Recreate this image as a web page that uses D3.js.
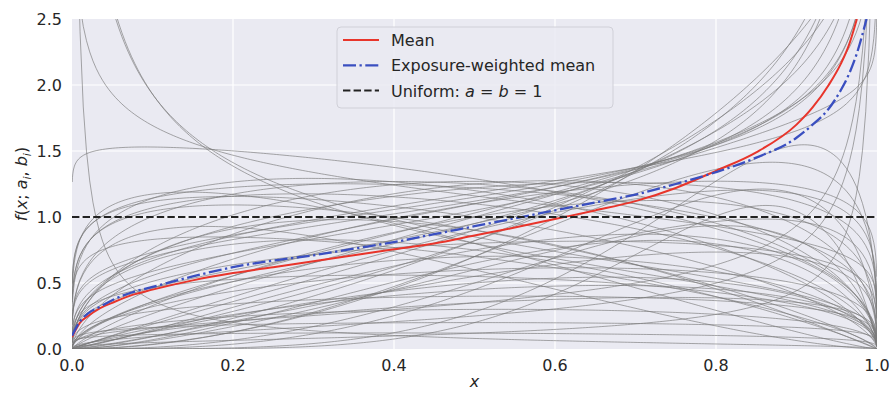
<!DOCTYPE html>
<html lang="en">
<head>
<meta charset="UTF-8">
<title>Beta curves</title>
<script src="https://cdn.jsdelivr.net/npm/d3@7"></script>
<style>
  body { margin: 0; background: #fff; }
  text { font-family: "DejaVu Sans", sans-serif; fill: #262626; }
</style>
</head>
<body>
<svg width="893" height="395"></svg>
<script>
// gray curves: shape a_i, b_i and height at x = 0.5
const grayA = [0.82, 0.6, 0.58, 0.2, 1.04,
  1.15, 1.3, 1.5, 1.6, 1.4, 1.25,
  1.2, 1.25, 1.2, 1.35, 1.6, 1.9, 2.3, 1.5, 2.8, 1.3, 2.0, 1.8, 1.3,
  1.3, 1.4, 1.3,
  3.0, 2.5, 4.0, 2.0, 3.5, 5.0, 2.2, 1.8, 2.6, 1.6, 6.0,
  1.5, 1.8, 1.3, 2.0, 1.4, 1.2, 1.6, 1.35, 2.2, 1.25, 1.7, 1.15,
  1.2, 1.2, 1.15, 1.3, 1.2, 1.4, 1.15, 1.5];
const grayB = [1.15, 1.3, 1.35, 1.4, 1.4,
  1.3, 1.45, 1.5, 1.4, 1.2, 1.6,
  0.78, 0.7, 0.75, 0.8, 0.85, 0.8, 0.85, 0.65, 0.9, 0.6, 0.7, 0.95, 0.9,
  0.3, 0.45, 0.5,
  1.3, 1.25, 1.5, 1.2, 1.6, 1.4, 1.5, 1.3, 1.6, 1.15, 1.8,
  1.3, 1.4, 1.25, 1.5, 1.35, 1.2, 1.5, 1.2, 1.3, 1.4, 1.25, 1.25,
  1.8, 2.2, 1.6, 2.5, 1.5, 1.9, 1.7, 2.0];
const grayM = [1.16, 0.85, 0.8, 0.08, 1.29,
  1.22, 1.25, 1.27, 1.25, 1.22, 1.2,
  1.15, 1.05, 1.12, 1.1, 1.03, 0.9, 0.82, 0.95, 0.7, 0.95, 0.82, 1.0, 1.18,
  0.12, 0.25, 0.35,
  0.7, 0.6, 0.45, 0.9, 0.5, 0.28, 0.75, 1.0, 0.65, 1.1, 0.2,
  0.6, 0.45, 0.4, 0.5, 0.3, 0.2, 0.7, 0.8, 0.55, 0.55, 0.35, 0.12,
  0.9, 0.8, 1.0, 0.6, 1.1, 0.75, 0.7, 0.9];

// mean curves
const meanX = [0, 0.005, 0.01, 0.02, 0.035, 0.05, 0.075, 0.1, 0.15, 0.2, 0.25, 0.3, 0.35, 0.4, 0.45,
  0.5, 0.55, 0.6, 0.65, 0.7, 0.75, 0.8, 0.85, 0.9, 0.92, 0.94, 0.955, 0.965, 0.975];
const meanY = [0.09, 0.15, 0.2, 0.25, 0.31, 0.35, 0.41, 0.45, 0.52, 0.575, 0.62, 0.665, 0.71, 0.755, 0.8,
  0.86, 0.92, 0.985, 1.05, 1.12, 1.22, 1.35, 1.49, 1.7, 1.83, 2.0, 2.16, 2.3, 2.5];
const ewX = [0, 0.005, 0.01, 0.02, 0.035, 0.05, 0.075, 0.1, 0.15, 0.2, 0.25, 0.3, 0.35, 0.4, 0.45,
  0.5, 0.55, 0.6, 0.65, 0.7, 0.75, 0.8, 0.85, 0.9, 0.92, 0.94, 0.955, 0.965, 0.975, 0.987];
const ewY = [0.1, 0.16, 0.21, 0.27, 0.32, 0.37, 0.43, 0.47, 0.55, 0.62, 0.67, 0.71, 0.76, 0.81, 0.87,
  0.93, 0.99, 1.05, 1.11, 1.17, 1.25, 1.34, 1.45, 1.6, 1.7, 1.82, 1.96, 2.08, 2.24, 2.5];

const xTicks = [0, 0.2, 0.4, 0.6, 0.8, 1.0];
const yTicks = [0, 0.5, 1.0, 1.5, 2.0, 2.5];

const svg = d3.select("svg");
const m = {left: 72, right: 16, top: 19, bottom: 46};
const W = 893, H = 395;

const x = d3.scaleLinear().domain([0, 1]).range([m.left, W - m.right]);
const y = d3.scaleLinear().domain([0, 2.5]).range([H - m.bottom, m.top]);

svg.append("rect").attr("width", W).attr("height", H).attr("fill", "#fff");
svg.append("rect")
  .attr("x", x(0)).attr("y", y(2.5))
  .attr("width", x(1) - x(0)).attr("height", y(0) - y(2.5))
  .attr("fill", "#eaeaf2");

svg.append("clipPath").attr("id", "clip")
  .append("rect")
  .attr("x", x(0)).attr("y", y(2.5))
  .attr("width", x(1) - x(0)).attr("height", y(0) - y(2.5));

// grid
svg.append("g").selectAll("line").data(xTicks.slice(1, -1)).join("line")
  .attr("x1", d => x(d)).attr("x2", d => x(d))
  .attr("y1", y(0)).attr("y2", y(2.5))
  .attr("stroke", "#fff").attr("stroke-width", 1.2);
svg.append("g").selectAll("line").data(yTicks.slice(1, -1)).join("line")
  .attr("x1", x(0)).attr("x2", x(1))
  .attr("y1", d => y(d)).attr("y2", d => y(d))
  .attr("stroke", "#fff").attr("stroke-width", 1.2);

// evaluation grid for the gray curves, denser near both ends
const xs = [0.0003, 0.0006, 0.001, 0.0015, 0.002, 0.003, 0.004, 0.006, 0.008]
  .concat(d3.range(0.01, 0.99, 0.004))
  .concat([0.99, 0.992, 0.994, 0.996, 0.997, 0.998, 0.9985, 0.999, 0.9994, 0.9997]);

function shape(a, b, h) {
  return xs.map(t => {
    const v = h * Math.pow(2 * t, a - 1) * Math.pow(2 * (1 - t), b - 1);
    return [t, Math.min(v, 10)];
  });
}

const line = d3.line().x(d => x(d[0])).y(d => y(d[1]));
const plot = svg.append("g").attr("clip-path", "url(#clip)");

plot.append("g").selectAll("path")
  .data(grayA.map((a, i) => shape(a, grayB[i], grayM[i])))
  .join("path")
  .attr("d", line)
  .attr("fill", "none")
  .attr("stroke", "#7a7a7a")
  .attr("stroke-opacity", 0.65)
  .attr("stroke-width", 1);

const smooth = d3.line().x(d => x(d[0])).y(d => y(d[1])).curve(d3.curveMonotoneX);

plot.append("path")
  .attr("d", smooth(meanX.map((v, i) => [v, meanY[i]])))
  .attr("fill", "none").attr("stroke", "#e8352b").attr("stroke-width", 2);

plot.append("path")
  .attr("d", smooth(ewX.map((v, i) => [v, ewY[i]])))
  .attr("fill", "none").attr("stroke", "#3a4fc0").attr("stroke-width", 2.3)
  .attr("stroke-dasharray", "13,3.5,2.3,3.5");

plot.append("line")
  .attr("x1", x(0)).attr("x2", x(1))
  .attr("y1", y(1)).attr("y2", y(1))
  .attr("stroke", "#222").attr("stroke-width", 2)
  .attr("stroke-dasharray", "7.4,3.2");

// tick labels
svg.append("g").selectAll("text").data(xTicks).join("text")
  .attr("x", d => x(d)).attr("y", y(0) + 22)
  .attr("text-anchor", "middle").style("font-size", "16px")
  .text(d => d3.format(".1f")(d));
svg.append("g").selectAll("text").data(yTicks).join("text")
  .attr("x", x(0) - 10).attr("y", d => y(d) + 6)
  .attr("text-anchor", "end").style("font-size", "16px")
  .text(d => d3.format(".1f")(d));

// axis labels
svg.append("text")
  .attr("x", (x(0) + x(1)) / 2).attr("y", 387)
  .attr("text-anchor", "middle").style("font-size", "16px").style("font-style", "italic")
  .text("x");

const yl = svg.append("text")
  .attr("transform", `translate(27,${(y(0) + y(2.5)) / 2}) rotate(-90)`)
  .attr("text-anchor", "middle").style("font-size", "16px");
yl.append("tspan").style("font-style", "italic").text("f");
yl.append("tspan").text("(");
yl.append("tspan").style("font-style", "italic").text("x");
yl.append("tspan").text("; ");
yl.append("tspan").style("font-style", "italic").text("a");
yl.append("tspan").style("font-style", "italic").style("font-size", "11px").attr("dy", 4).text("i");
yl.append("tspan").attr("dy", -4).text(", ");
yl.append("tspan").style("font-style", "italic").text("b");
yl.append("tspan").style("font-style", "italic").style("font-size", "11px").attr("dy", 4).text("i");
yl.append("tspan").attr("dy", -4).text(")");

// legend
const lg = svg.append("g");
lg.append("rect")
  .attr("x", 337).attr("y", 27).attr("width", 276).attr("height", 81).attr("rx", 4)
  .attr("fill", "#eaeaf2").attr("fill-opacity", 0.85)
  .attr("stroke", "#d0d0d8");

const legendRows = [
  {color: "#e8352b", dash: null, w: 2, label: "Mean"},
  {color: "#3a4fc0", dash: "13,3.5,2.3,3.5", w: 2.3, label: "Exposure-weighted mean"},
  {color: "#222", dash: "7.4,3.2", w: 2, label: "Uniform"}
];
legendRows.forEach((r, i) => {
  const yy = 40 + i * 25.3;
  lg.append("line")
    .attr("x1", 343).attr("x2", 379).attr("y1", yy).attr("y2", yy)
    .attr("stroke", r.color).attr("stroke-width", r.w)
    .attr("stroke-dasharray", r.dash);
  const t = lg.append("text").attr("x", 391).attr("y", yy + 6).style("font-size", "16px");
  if (r.label === "Uniform") {
    t.append("tspan").text("Uniform: ");
    t.append("tspan").style("font-style", "italic").text("a");
    t.append("tspan").text(" = ");
    t.append("tspan").style("font-style", "italic").text("b");
    t.append("tspan").text(" = 1");
  } else {
    t.text(r.label);
  }
});
</script>
</body>
</html>
